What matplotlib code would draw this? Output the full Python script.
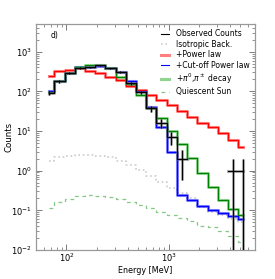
import numpy as np
import matplotlib
matplotlib.use('Agg')
import matplotlib.pyplot as plt

# bin centres [MeV]
energy = [67.3, 84.8, 106.7, 134.3, 169.1, 212.9, 268.0, 337.4, 424.8, 534.8,
          673.2, 847.5, 1067.0, 1343.3, 1691.1, 2128.9, 2680.1, 3374.1, 4247.7, 5347.6]

observed = [90, 180, 290, 390, 400, 450, 380, 300, 160, 95,
            37, 16, 7, 2, np.nan, np.nan, np.nan, np.nan, 1, 1]
isotropic = [1.77, 2.27, 2.4, 2.5, 2.5, 2.4, 2.27, 1.8, 1.4, 1.05,
             0.73, 0.51, 0.36, 0.27, 0.21, 0.12, 0.09, 0.075, 0.062, 0.05]
power_law = [250, 330, 350, 380, 330, 285, 235, 194, 140, 108,
             81, 61, 46, 32.5, 23, 16, 12.5, 8.8, 6.0, 4.0]
cutoff_pl = [105, 183, 285, 405, 420, 445, 390, 315, 183, 100,
             40, 12.8, 3.0, 0.25, 0.18, 0.13, 0.10, 0.085, 0.072, 0.06]
pion = [94, 183, 285, 405, 462, 462, 380, 235, 150, 81,
        38, 21, 10, 4.7, 2.1, 0.88, 0.38, 0.18, 0.105, 0.075]
quiescent = [0.113, 0.158, 0.195, 0.23, 0.245, 0.224, 0.215, 0.19, 0.166, 0.138,
             0.114, 0.093, 0.077, 0.063, 0.054, 0.041, 0.038, 0.030, 0.022, 0.016]

fig = plt.figure(figsize=(2.75, 2.79), dpi=100)
ax = fig.add_axes([0.13, 0.104, 0.797, 0.81])

thin = 0.8
thick = 2.2
al = 0.5

ax.step(energy, isotropic, where='mid', color='0.8', ls=':', lw=1.2, label='Isotropic Back.', zorder=2)
ax.step(energy, power_law, where='mid', color='red', lw=thick, alpha=al, label='+Power law', zorder=3)
ax.step(energy, power_law, where='mid', color='red', lw=thin, zorder=4)
ax.step(energy, cutoff_pl, where='mid', color='blue', lw=thick, alpha=al, zorder=3)
ax.step(energy, cutoff_pl, where='mid', color='blue', lw=thin, label='+Cut-off Power law', zorder=4)
ax.step(energy, pion, where='mid', color='#22aa22', lw=thick, alpha=al, label=r'+$\pi^0$,$\pi^\pm$ decay', zorder=3)
ax.step(energy, pion, where='mid', color='green', lw=thin, zorder=4)
ax.step(energy, quiescent, where='mid', color='#44aa44', ls=(0, (3, 3)), lw=0.9, alpha=0.65, label='Quiescent Sun', zorder=2)

obs = np.array(observed)
err = np.sqrt(obs)
ax.step(energy, obs, where='mid', color='0.4', lw=thick, alpha=al, zorder=5)
ax.step(energy, obs, where='mid', color='black', lw=thin, label='Observed Counts', zorder=6)
ax.errorbar(energy, obs, yerr=err, fmt='none', ecolor='0.4', elinewidth=thick, alpha=al, zorder=5)
ax.errorbar(energy, obs, yerr=err, fmt='none', ecolor='black', elinewidth=thin, zorder=6)

ax.set_xscale('log')
ax.set_yscale('log')
ax.set_xlim(50, 7000)
ax.set_ylim(0.01, 5000)

for s in ax.spines.values():
    s.set_color('0.6')
    s.set_linewidth(0.9)
ax.tick_params(which='both', direction='in', top=True, right=True, labelsize=6, color='0.4', pad=2.5)
ax.tick_params(axis='x', which='both', pad=1.5)
ax.tick_params(which='major', length=4, width=0.6)
ax.tick_params(which='minor', length=2, width=0.5)

ax.set_xlabel('Energy [MeV]', fontsize=5.8)
ax.set_ylabel('Counts', fontsize=6.2)
ax.xaxis.set_label_coords(0.5, -0.07)
ax.yaxis.set_label_coords(-0.10, 0.5)
ax.text(0.07, 0.97, 'd)', transform=ax.transAxes, fontsize=5.5, va='top', ha='left')

handles, labels = ax.get_legend_handles_labels()
order = ['Observed Counts', 'Isotropic Back.', '+Power law', '+Cut-off Power law',
         r'+$\pi^0$,$\pi^\pm$ decay', 'Quiescent Sun']
hd = dict(zip(labels, handles))
ax.legend([hd[o] for o in order], order, loc='upper right', frameon=False, fontsize=5.5,
          handlelength=1.1, handletextpad=0.9, labelspacing=0.2, borderaxespad=0.3)

fig.savefig('out.png', dpi=100)
